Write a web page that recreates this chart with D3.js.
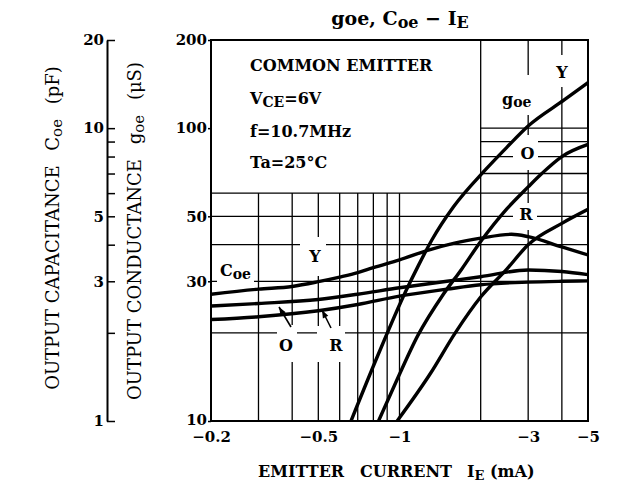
<!DOCTYPE html>
<html><head><meta charset="utf-8">
<script src="https://cdn.jsdelivr.net/npm/d3@7"></script>
<style>
body{margin:0;background:#fff}
svg{display:block}
text{font-family:"DejaVu Serif","Liberation Serif",serif;fill:#000}
</style></head><body>
<svg id="c" width="623" height="486"></svg>
<script>
// ---- data ----
const goeY_I=[0.661,0.83,1.058,1.176,1.318,1.586,2.08,2.5,3.0,4.08,5.0];
const goeY_uS=[10,16.7,27.9,34,41.5,53.9,72,86,101.7,124.8,143];
const goeO_I=[0.836,0.978,1.17,1.45,1.7,2.0,2.5,3.0,3.37,4.0,5.0];
const goeO_uS=[10,13.8,19.6,27,33,41,53,63,70,80,88];
const goeR_I=[0.98,1.3,1.61,2.0,2.5,3.0,4.0,5.0];
const goeR_uS=[10,14.5,20,26.5,33,40,47.3,52.8];
const coeY_I=[0.2,0.3,0.4,0.5,0.6,0.7,0.8,1.0,1.3,1.6,2.0,2.6,3.0,4.0,5.0];
const coeY_pF=[2.71,2.82,2.88,2.99,3.10,3.21,3.34,3.55,3.85,4.05,4.21,4.34,4.26,3.93,3.69];
const coeO_I=[0.2,0.3,0.5,0.7,1.0,1.5,2.0,3.0,4.0,5.0];
const coeO_pF=[2.47,2.52,2.60,2.71,2.85,3.0,3.11,3.28,3.24,3.16];
const coeR_I=[0.2,0.3,0.5,0.7,1.0,1.5,2.0,3.0,4.0,5.0];
const coeR_pF=[2.22,2.27,2.38,2.50,2.67,2.82,2.92,2.98,3.00,3.01];
const xTickVals=[0.2,0.5,1,3,5];
const xGridLow=[0.3,0.4,0.5,0.6,0.7,0.8,0.9,1];
const xGridFull=[2,3,4];
const goeTickVals=[10,30,50,100,200];
const coeTickVals=[1,2,3,4,5,6,7,8,9,10,20];
const coeLabelVals=[1,3,5,10,20];
const yGridFull=[20,30,40,50,60];
const yGridRight=[70,80,90,100];

// ---- layout ----
const svg=d3.select("#c");
const L=211,R=588,T=40,B=421;
const x=d3.scaleLog().domain([0.2,5]).range([L,R]);
const yG=d3.scaleLog().domain([10,200]).range([B,T]);
const yC=d3.scaleLog().domain([1,20]).range([B,T]);

const grid=svg.append("g").attr("stroke","#000").attr("stroke-width",1.3);
xGridLow.forEach(v=>grid.append("line").attr("x1",x(v)).attr("x2",x(v)).attr("y1",yG(60)).attr("y2",B));
xGridFull.forEach(v=>grid.append("line").attr("x1",x(v)).attr("x2",x(v)).attr("y1",T).attr("y2",B));
yGridFull.forEach(v=>grid.append("line").attr("x1",L).attr("x2",R).attr("y1",yG(v)).attr("y2",yG(v)));
yGridRight.forEach(v=>grid.append("line").attr("x1",x(2)).attr("x2",R).attr("y1",yG(v)).attr("y2",yG(v)));

// white gaps behind labels
const gaps=[[555,55,14,32],[500,75,32,40],[513,135,25,35],[513,203,24,27],[300,237,26,39],[217,262,37,21],[277,325,20,37],[317,326,28,36]];
svg.append("g").selectAll("rect").data(gaps).join("rect")
  .attr("x",d=>d[0]).attr("y",d=>d[1]).attr("width",d=>d[2]).attr("height",d=>d[3]).attr("fill","#fff");

// frame
svg.append("rect").attr("x",L).attr("y",T).attr("width",R-L).attr("height",B-T)
  .attr("fill","none").attr("stroke","#000").attr("stroke-width",2);

// axes
const fontNum='bold 15px "DejaVu Serif", serif';
const gAxis=svg.append("g").attr("transform",`translate(${L},0)`)
  .call(d3.axisLeft(yG).tickValues(goeTickVals).tickFormat(d3.format("d")).tickSize(3).tickPadding(1));
const cAxis=svg.append("g").attr("transform","translate(107,0)")
  .call(d3.axisLeft(yC).tickValues(coeTickVals).tickFormat(d=>coeLabelVals.includes(d)?String(d):"").tickSizeInner(-8).tickSizeOuter(0).tickPadding(3));
const xAxis=svg.append("g").attr("transform",`translate(0,${B})`)
  .call(d3.axisBottom(x).tickValues(xTickVals).tickFormat(d=>"\u2212"+d).tickSize(0).tickPadding(10));
[gAxis,cAxis,xAxis].forEach(a=>{
  a.select(".domain").attr("stroke","#000").attr("stroke-width",2);
  a.selectAll(".tick line").attr("stroke","#000").attr("stroke-width",1.5);
  a.selectAll(".tick text").style("font",fontNum).attr("fill","#000");
});
gAxis.select(".domain").remove();
xAxis.select(".domain").remove();
gAxis.selectAll(".tick").filter(d=>d===10).select("text").attr("dy","0.2em");

// curves
const clip=svg.append("clipPath").attr("id","pc").append("rect").attr("x",L).attr("y",T).attr("width",R-L).attr("height",B-T);
const lineG=d3.line().x(d=>x(d[0])).y(d=>yG(d[1])).curve(d3.curveMonotoneX);
const lineC=d3.line().x(d=>x(d[0])).y(d=>yC(d[1])).curve(d3.curveMonotoneX);
const curves=svg.append("g").attr("clip-path","url(#pc)").attr("fill","none").attr("stroke","#000").attr("stroke-width",3.4).attr("stroke-linecap","round");
[[goeY_I,goeY_uS],[goeO_I,goeO_uS],[goeR_I,goeR_uS]].forEach(([a,b])=>curves.append("path").attr("d",lineG(a.map((v,i)=>[v,b[i]]))));
[[coeY_I,coeY_pF],[coeO_I,coeO_pF],[coeR_I,coeR_pF]].forEach(([a,b])=>curves.append("path").attr("d",lineC(a.map((v,i)=>[v,b[i]]))));

// labels inside plot
function lab(px,py,txt,size){return svg.append("text").attr("x",px).attr("y",py).attr("text-anchor","middle").style("font",`bold ${size||16}px "DejaVu Serif", serif`).text(txt);}
lab(562,78,"Y");
const tg=svg.append("text").attr("x",502).attr("y",105).style("font",'bold 16px "DejaVu Serif", serif');
tg.append("tspan").text("g");tg.append("tspan").attr("font-size",14).attr("dy",2).text("oe");
lab(527.5,158.5,"O");
lab(526,220,"R");
lab(315,262,"Y");
const tc=svg.append("text").attr("x",220).attr("y",276).style("font",'bold 16px "DejaVu Serif", serif');
tc.append("tspan").text("C");tc.append("tspan").attr("font-size",14).attr("dy",3).text("oe");
lab(286,351,"O");
lab(336,351,"R");
// arrows
const ar=svg.append("g").attr("stroke","#000").attr("stroke-width",1.6);
[[[291,327],[279,307]],[[331,328],[322,310]]].forEach(([a,b])=>{
  ar.append("line").attr("x1",a[0]).attr("y1",a[1]).attr("x2",b[0]).attr("y2",b[1]);
  const ang=Math.atan2(b[1]-a[1],b[0]-a[0]),l=8,w=3;
  const p1=[b[0]-l*Math.cos(ang)+w*Math.sin(ang),b[1]-l*Math.sin(ang)-w*Math.cos(ang)];
  const p2=[b[0]-l*Math.cos(ang)-w*Math.sin(ang),b[1]-l*Math.sin(ang)+w*Math.cos(ang)];
  svg.append("path").attr("d",`M${b[0]},${b[1]}L${p1[0]},${p1[1]}L${p2[0]},${p2[1]}Z`).attr("fill","#000");
});

// condition box text
const bf='bold 16px "DejaVu Serif", serif';
svg.append("text").attr("x",250).attr("y",71).style("font",bf).text("COMMON EMITTER");
const tv=svg.append("text").attr("x",250).attr("y",104).style("font",bf);
tv.append("tspan").text("V");tv.append("tspan").attr("font-size",14).attr("dy",3).text("CE");tv.append("tspan").attr("dy",-3).text("=6V");
svg.append("text").attr("x",250).attr("y",137).style("font",bf).text("f=10.7MHz");
svg.append("text").attr("x",250).attr("y",168).style("font",bf).text("Ta=25°C");

// title
const tt=svg.append("text").attr("x",400).attr("y",25).attr("text-anchor","middle").style("font",'bold 19px "DejaVu Serif", serif');
tt.append("tspan").text("goe, C");tt.append("tspan").attr("font-size",16).attr("dy",3).text("oe");
tt.append("tspan").attr("dy",-3).text(" \u2212  I");tt.append("tspan").attr("font-size",16).attr("dy",3).text("E");

// axis titles
const af='18px "DejaVu Serif", serif';
const t1=svg.append("text").attr("transform","translate(59,228) rotate(-90)").attr("text-anchor","middle").style("font",af);
t1.append("tspan").text("OUTPUT CAPACITANCE\u2002 C");t1.append("tspan").attr("font-size",15).attr("dy",3).text("oe");t1.append("tspan").attr("dy",-3).text("\u2002 (pF)");
const t2=svg.append("text").attr("transform","translate(141,231) rotate(-90)").attr("text-anchor","middle").style("font",af);
t2.append("tspan").text("OUTPUT CONDUCTANCE\u2002 g");t2.append("tspan").attr("font-size",15).attr("dy",3).text("oe");t2.append("tspan").attr("dy",-3).text("\u2002 (\u03bcS)");
const xf='bold 16px "DejaVu Serif", serif';
svg.append("text").attr("x",258).attr("y",477).style("font",xf).text("EMITTER");
svg.append("text").attr("x",360).attr("y",477).style("font",xf).text("CURRENT");
const t3=svg.append("text").attr("x",467).attr("y",477).style("font",xf);
t3.append("tspan").text("I");t3.append("tspan").attr("font-size",13).attr("dy",3).text("E");t3.append("tspan").attr("dy",-3).text(" (mA)");
</script></body></html>
